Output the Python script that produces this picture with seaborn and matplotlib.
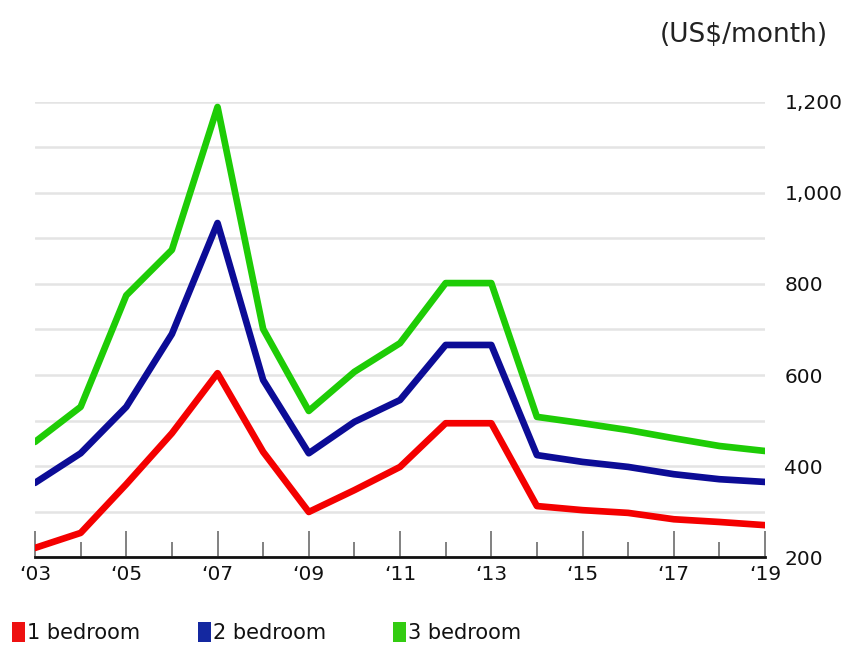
import pandas as pd
import matplotlib.pyplot as plt
import seaborn as sns
from matplotlib.patches import Rectangle
from matplotlib.ticker import MultipleLocator, FixedLocator, FuncFormatter

# 家賃推移データ
years = list(range(2003, 2020))
one_bedroom = [220, 253, 360, 472, 604, 431, 299, 347, 398, 494, 494, 312, 303, 297, 283, 277, 270]
two_bedroom = [363, 428, 530, 690, 934, 589, 428, 497, 545, 666, 666, 424, 409, 398, 382, 371, 365]
three_bedroom = [453, 530, 775, 875, 1189, 701, 521, 607, 670, 802, 802, 508, 494, 479, 461, 444, 433]
series_names = ['1 bedroom', '2 bedroom', '3 bedroom']
line_colors = ['#f40000', '#0c0c96', '#1ecc06']
legend_colors = ['#ee1111', '#1428a0', '#33cc11']
label_years = years[::2]

df = pd.DataFrame({'year': years, series_names[0]: one_bedroom,
                   series_names[1]: two_bedroom, series_names[2]: three_bedroom})
long_df = df.melt(id_vars='year', var_name='type', value_name='rent')

sns.set_style('white')
plt.rcParams['font.family'] = ['DejaVu Sans']

fig = plt.figure(figsize=(8.42, 6.45), dpi=100)
ax = fig.add_axes([0.0416, 0.1364, 0.867, 0.7055])

sns.lineplot(data=long_df, x='year', y='rent', hue='type', palette=line_colors,
             linewidth=4.8, ax=ax, legend=False, zorder=3)

ax.set_xlim(2003, 2019)
ax.set_ylim(200, 1200)

# 目盛り設定
ax.yaxis.set_major_locator(MultipleLocator(200))
ax.yaxis.set_minor_locator(MultipleLocator(100))
ax.yaxis.tick_right()
ax.yaxis.set_major_formatter(FuncFormatter(lambda v, p: f'{int(v):,}'))
ax.tick_params(axis='y', which='both', length=0, pad=14, labelsize=14.5, labelcolor='#111111')
ax.grid(axis='y', which='both', color='#e4e4e4', linewidth=1.8, zorder=0)
ax.grid(axis='x', visible=False)

ax.xaxis.set_major_locator(FixedLocator(label_years))
ax.xaxis.set_minor_locator(FixedLocator(years))
ax.xaxis.set_major_formatter(FuncFormatter(lambda v, p: '\u2018' + f'{int(round(v)) % 100:02d}'))
ax.tick_params(axis='x', which='both', bottom=True, top=False)
ax.tick_params(axis='x', which='major', direction='in', length=18.5, width=1.3,
               color='#777777', pad=6, labelsize=14.5, labelcolor='#111111')
ax.tick_params(axis='x', which='minor', direction='in', length=10.5, width=1.3, color='#777777')

for side in ['top', 'left', 'right']:
    ax.spines[side].set_visible(False)
ax.spines['bottom'].set_color('#111111')
ax.spines['bottom'].set_linewidth(2)
ax.set_xlabel('')
ax.set_ylabel('')

fig.text(0.983, 0.945, '(US$/month)', ha='right', va='center', fontsize=19, color='#222222')

# 凡例（手動配置）
legend_x = [0.014, 0.235, 0.467]
for name, color, lx in zip(series_names, legend_colors, legend_x):
    fig.patches.append(Rectangle((lx, 0.005), 0.0155, 0.03, transform=fig.transFigure,
                                 facecolor=color, edgecolor='none'))
    fig.text(lx + 0.018, 0.018, name, ha='left', va='center', fontsize=15, color='#111111')

plt.savefig('out.png', dpi=100)
plt.close()
